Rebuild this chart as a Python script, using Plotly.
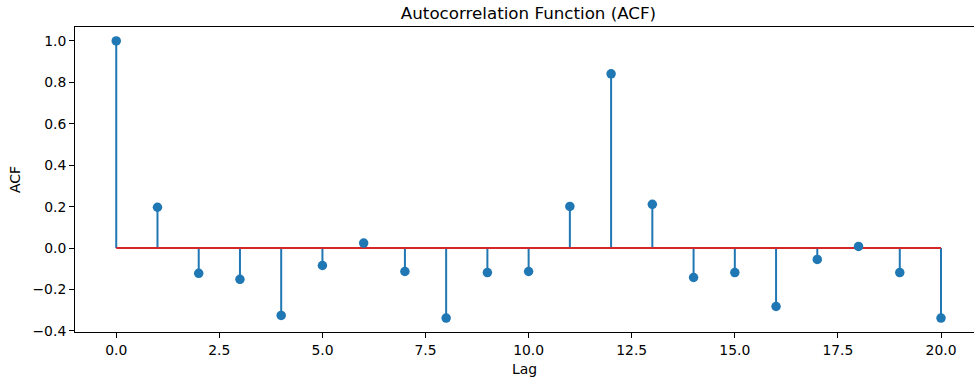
import plotly.graph_objects as go

lags = list(range(21))
acf = [1.0, 0.197, -0.122, -0.151, -0.325, -0.084, 0.024, -0.113, -0.338, -0.118,
       -0.113, 0.201, 0.841, 0.211, -0.142, -0.118, -0.282, -0.055, 0.008, -0.118, -0.338]

blue = "#1f77b4"
red = "#d62728"
font = "DejaVu Sans"

stem_x, stem_y = [], []
for l, v in zip(lags, acf):
    stem_x += [l, l, None]
    stem_y += [0, v, None]

fig = go.Figure()
fig.add_trace(go.Scatter(x=stem_x, y=stem_y, mode="lines",
                         line=dict(color=blue, width=2), hoverinfo="skip", showlegend=False))
fig.add_trace(go.Scatter(x=[min(lags), max(lags)], y=[0, 0], mode="lines",
                         line=dict(color=red, width=2), showlegend=False))
fig.add_trace(go.Scatter(x=lags, y=acf, mode="markers",
                         marker=dict(color=blue, size=9.5), showlegend=False))

W, H = 974, 377
L, R, T, B = 75, 0, 27, 45
fig.update_layout(
    width=W, height=H,
    margin=dict(l=L, r=R, t=T, b=B),
    plot_bgcolor="white", paper_bgcolor="white",
    font=dict(family=font, color="black", size=13.9),
    title=dict(text="Autocorrelation Function (ACF)", font=dict(size=16.7, family=font),
               x=(528.5 - L) / (W - L - R), xref="paper", xanchor="center",
               y=1 - 13 / H, yref="container", yanchor="middle"),
    xaxis=dict(range=[-1, 20.8], tickvals=[0, 2.5, 5, 7.5, 10, 12.5, 15, 17.5, 20],
               tickformat=".1f", showgrid=False, zeroline=False,
               showline=True, linecolor="black", linewidth=1, mirror=True,
               ticks="outside", ticklen=5, tickcolor="black", tickwidth=1,
               title=dict(text="Lag", standoff=8, font=dict(size=13.9))),
    yaxis=dict(range=[-0.405, 1.067], tickvals=[-0.4, -0.2, 0, 0.2, 0.4, 0.6, 0.8, 1.0],
               tickformat=".1f", showgrid=False, zeroline=False,
               showline=True, linecolor="black", linewidth=1, mirror=False,
               ticks="outside", ticklen=5, tickcolor="black", tickwidth=1,
               title=dict(text="ACF", standoff=8, font=dict(size=13.9))),
)
fig.write_html("out.html", config={"displayModeBar": False},
               post_script="document.body.style.margin='0';document.body.style.overflow='hidden';")
